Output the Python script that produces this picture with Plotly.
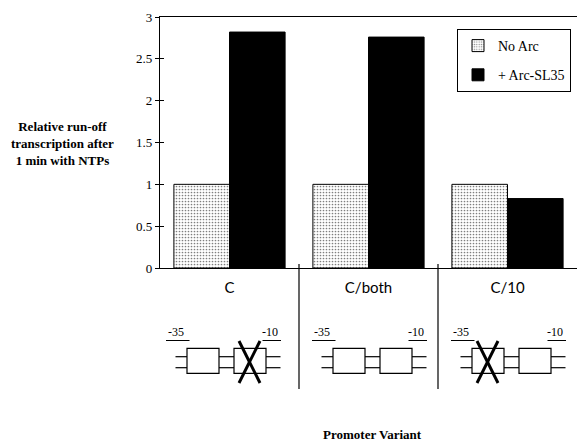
import plotly.graph_objects as go

# ---- data ----
categories = ["C", "C/both", "C/10"]
no_arc = [1.0, 1.0, 1.0]
arc_sl35 = [2.82, 2.76, 0.83]
y_ticks = [0, 0.5, 1, 1.5, 2, 2.5, 3]
y_tick_labels = ["0", "0.5", "1", "1.5", "2", "2.5", "3"]

# ---- layout geometry (pixels) ----
W, H = 577, 443
L, R, T, B = 160, 0, 17, 175
plot_w = W - L - R
plot_h = H - T - B
cat_px = plot_w / len(categories)

SERIF = "Liberation Serif"
SANS = "Lato"

fig = go.Figure()
fig.add_trace(go.Bar(
    name="No Arc", x=categories, y=no_arc, legendgroup="a",
    marker=dict(color="white", line=dict(color="black", width=1),
                pattern=dict(shape=".", fgcolor="black", bgcolor="white",
                             size=3, solidity=0.25)),
))
fig.add_trace(go.Bar(
    name="+ Arc-SL35", x=categories, y=arc_sl35, legendgroup="b",
    marker=dict(color="black", line=dict(color="black", width=1)),
))
# dummy trace to draw the inside tick marks
fig.add_trace(go.Scatter(x=[], y=[], yaxis="y2", showlegend=False))


def py(p):
    return ((T + plot_h) - p) / plot_h


def px(ci, dx):
    return ci + dx / cat_px


shapes = []
annotations = []

# dividers between categories
for b in [0.5, 1.5]:
    shapes.append(dict(type="line", xref="x", yref="paper", x0=b, x1=b,
                       y0=py(264), y1=py(389), line=dict(color="black", width=1.2)))

# promoter schematics
shifts = [-7, 0, 0]
crossed = ["box2", None, "box1"]
box1 = (-35.5, -3.5)
box2 = (11.5, 43.5)
left_start, right_end = -47, 58
dna_y = [356.7, 367.7]
box_y = (348.3, 373.3)
for ci, (s, cr) in enumerate(zip(shifts, crossed)):
    segs = [(left_start, box1[0]), (box1[1], box2[0]), (box2[1], right_end)]
    for a, bb in segs:
        for yy in dna_y:
            shapes.append(dict(type="line", xref="x", yref="paper",
                               x0=px(ci, a + s), x1=px(ci, bb + s),
                               y0=py(yy), y1=py(yy),
                               line=dict(color="black", width=1.2)))
    for bx in (box1, box2):
        shapes.append(dict(type="rect", xref="x", yref="paper",
                           x0=px(ci, bx[0] + s), x1=px(ci, bx[1] + s),
                           y0=py(box_y[0]), y1=py(box_y[1]),
                           line=dict(color="black", width=1.2)))
    # underlines for labels
    shapes.append(dict(type="line", xref="x", yref="paper",
                       x0=px(ci, -56.5 + s), x1=px(ci, -33 + s),
                       y0=py(340.5), y1=py(340.5), line=dict(color="black", width=1)))
    shapes.append(dict(type="line", xref="x", yref="paper",
                       x0=px(ci, 40 + s), x1=px(ci, 58.5 + s),
                       y0=py(340.5), y1=py(340.5), line=dict(color="black", width=1)))
    annotations.append(dict(text="-35", xref="x", yref="paper",
                            x=px(ci, -57 + s), y=py(332), xanchor="left",
                            yanchor="middle", showarrow=False,
                            font=dict(family=SERIF, size=12, color="black")))
    annotations.append(dict(text="-10", xref="x", yref="paper",
                            x=px(ci, 57 + s), y=py(332), xanchor="right",
                            yanchor="middle", showarrow=False,
                            font=dict(family=SERIF, size=12, color="black")))
    if cr:
        bx = box2 if cr == "box2" else box1
        x0 = bx[0] + 5 + s
        x1 = bx[0] + 26 + s
        shapes.append(dict(type="line", xref="x", yref="paper",
                           x0=px(ci, x0), x1=px(ci, x1), y0=py(341), y1=py(383),
                           line=dict(color="black", width=3)))
        shapes.append(dict(type="line", xref="x", yref="paper",
                           x0=px(ci, x1), x1=px(ci, x0), y0=py(341), y1=py(383),
                           line=dict(color="black", width=3)))

# y axis title
annotations.append(dict(
    text="<b>Relative run-off<br>transcription after<br>1 min with NTPs</b>",
    xref="paper", yref="paper", x=(62 - L) / plot_w, y=py(143),
    xanchor="center", yanchor="middle", showarrow=False, align="center",
    font=dict(family=SERIF, size=13, color="black")))
# x axis title
annotations.append(dict(
    text="<b>Promoter Variant</b>", xref="paper", yref="paper",
    x=(372 - L) / plot_w, y=py(435), xanchor="center", yanchor="middle",
    showarrow=False, font=dict(family=SERIF, size=13, color="black")))

fig.update_layout(
    width=W, height=H,
    margin=dict(l=L, r=R, t=T, b=B, pad=0, autoexpand=False),
    paper_bgcolor="white", plot_bgcolor="white",
    barmode="group", bargap=0.2, bargroupgap=0,
    font=dict(family=SERIF, size=13, color="black"),
    xaxis=dict(range=[-0.5, 2.5], showline=True, linecolor="black", linewidth=1.2,
               mirror=True, ticks="", showgrid=False, zeroline=False,
               tickfont=dict(family=SANS, size=15, color="black"),
               ticklabelstandoff=6, automargin=False),
    yaxis=dict(range=[0, 3], tickvals=y_ticks, ticktext=y_tick_labels,
               showline=True, linecolor="black", linewidth=1.2,
               ticks="outside", ticklen=4, tickwidth=1.2, tickcolor="black",
               showgrid=False, zeroline=False, automargin=False,
               tickfont=dict(family=SERIF, size=13, color="black")),
    yaxis2=dict(range=[0, 3], overlaying="y", side="left", tickvals=y_ticks[:-1],
                ticks="inside", ticklen=4, tickwidth=1.2, tickcolor="black",
                showticklabels=False, showgrid=False, zeroline=False, showline=False),
    legend=dict(x=(571 - L) / plot_w, y=py(29), xanchor="right", yanchor="top",
                bordercolor="black", borderwidth=1, bgcolor="white",
                traceorder="grouped", tracegroupgap=8, itemwidth=30,
                font=dict(family=SERIF, size=14, color="black")),
    shapes=shapes, annotations=annotations,
)

fig.write_html("out.html", config={"displayModeBar": False},
               post_script="document.body.style.margin='0';document.body.style.overflow='hidden';")
